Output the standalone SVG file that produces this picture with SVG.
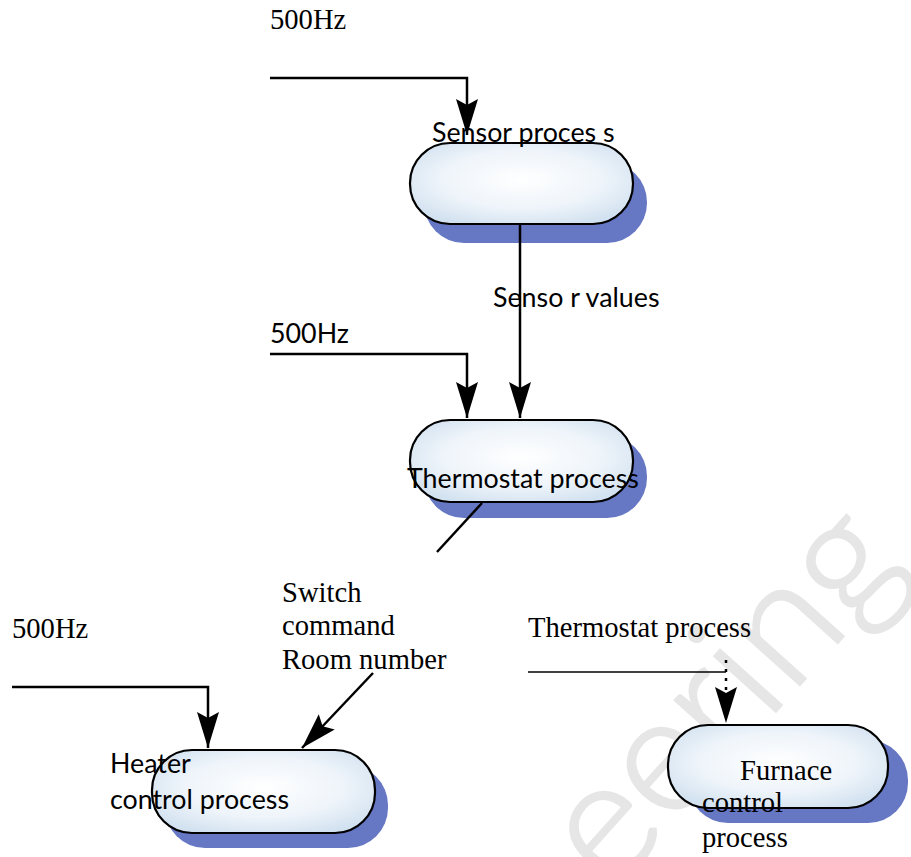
<svg xmlns="http://www.w3.org/2000/svg" width="911" height="857" viewBox="0 0 911 857">
<defs>
<radialGradient id="pill" cx="0.5" cy="0.45" r="0.6">
<stop offset="0" stop-color="#ffffff"/>
<stop offset="0.6" stop-color="#eef4fa"/>
<stop offset="1" stop-color="#d3e2f0"/>
</radialGradient>
<marker id="arr" viewBox="0 -12 37 24" markerWidth="37" markerHeight="24" refX="36" refY="0" orient="auto" markerUnits="userSpaceOnUse">
<path d="M0,-11 L36,0 L0,11 L6,0 Z" fill="#000"/>
</marker>
<style>
.shadow{fill:#6677c4}
.node{fill:url(#pill);stroke:#000;stroke-width:2.2}
.wire{fill:none;stroke:#000;stroke-width:2.5}
.thin{fill:none;stroke:#000;stroke-width:1.6}
.serif{font-family:"Liberation Serif","Times New Roman",serif;font-size:28.6px;fill:#000}
.sans{font-family:Lato,"Open Sans",sans-serif;font-size:26.8px;fill:#000}
.wm{font-family:Lato,"Open Sans",sans-serif;font-weight:300;font-size:165px;fill:#e6e6e6;stroke:#e6e6e6;stroke-width:3}
</style>
</defs>
<rect width="911" height="857" fill="#fff"/>
<text class="wm" transform="translate(612,893) rotate(-48)">eering</text>

<g id="sensor">
<rect class="shadow" x="424" y="162" width="223" height="81" rx="40"/>
<rect class="node" x="410" y="143" width="223" height="81" rx="40"/>
</g>
<g id="thermostat">
<rect class="shadow" x="424" y="436" width="223" height="82" rx="40"/>
<rect class="node" x="410" y="420" width="223" height="82" rx="40"/>
</g>
<g id="heater">
<rect class="shadow" x="165" y="765" width="223" height="83" rx="40"/>
<rect class="node" x="152" y="750" width="223" height="83" rx="40"/>
</g>
<g id="furnace">
<rect class="shadow" x="688" y="740" width="220" height="83" rx="40"/>
<rect class="node" x="668" y="725" width="220" height="83" rx="40"/>
</g>

<g id="connectors">
<path class="wire" d="M270,78 H467 V135" marker-end="url(#arr)"/>
<path class="wire" d="M520,224 V418" marker-end="url(#arr)"/>
<path class="wire" d="M270,354 H467 V418" marker-end="url(#arr)"/>
<path class="wire" d="M482,503 L437,552"/>
<path class="wire" d="M12,687 H208 V748" marker-end="url(#arr)"/>
<path class="wire" d="M373,673 L302,748" marker-end="url(#arr)"/>
<path class="thin" d="M528,672 H726"/>
<path class="wire" d="M726,660 V723" stroke-dasharray="3,6" marker-end="url(#arr)"/>
</g>

<g id="labels">
<text class="serif" x="270" y="29">500Hz</text>
<text class="sans" x="432" y="142">Sensor proces s</text>
<text class="sans" x="493" y="307">Senso r values</text>
<text class="sans" x="270" y="343">500Hz</text>
<text class="sans" x="407" y="488">Thermostat process</text>
<text class="serif" x="12" y="638">500Hz</text>
<text class="serif" x="282" y="602">Switch</text>
<text class="serif" x="282" y="635">command</text>
<text class="serif" x="282" y="669">Room number</text>
<text class="serif" x="528" y="637">Thermostat process</text>
<text class="sans" x="110" y="773">Heater</text>
<text class="sans" x="110" y="809">control process</text>
<text class="serif" x="740" y="780">Furnace</text>
<text class="serif" x="702" y="812">control</text>
<text class="serif" x="702" y="847">process</text>
</g>
</svg>
